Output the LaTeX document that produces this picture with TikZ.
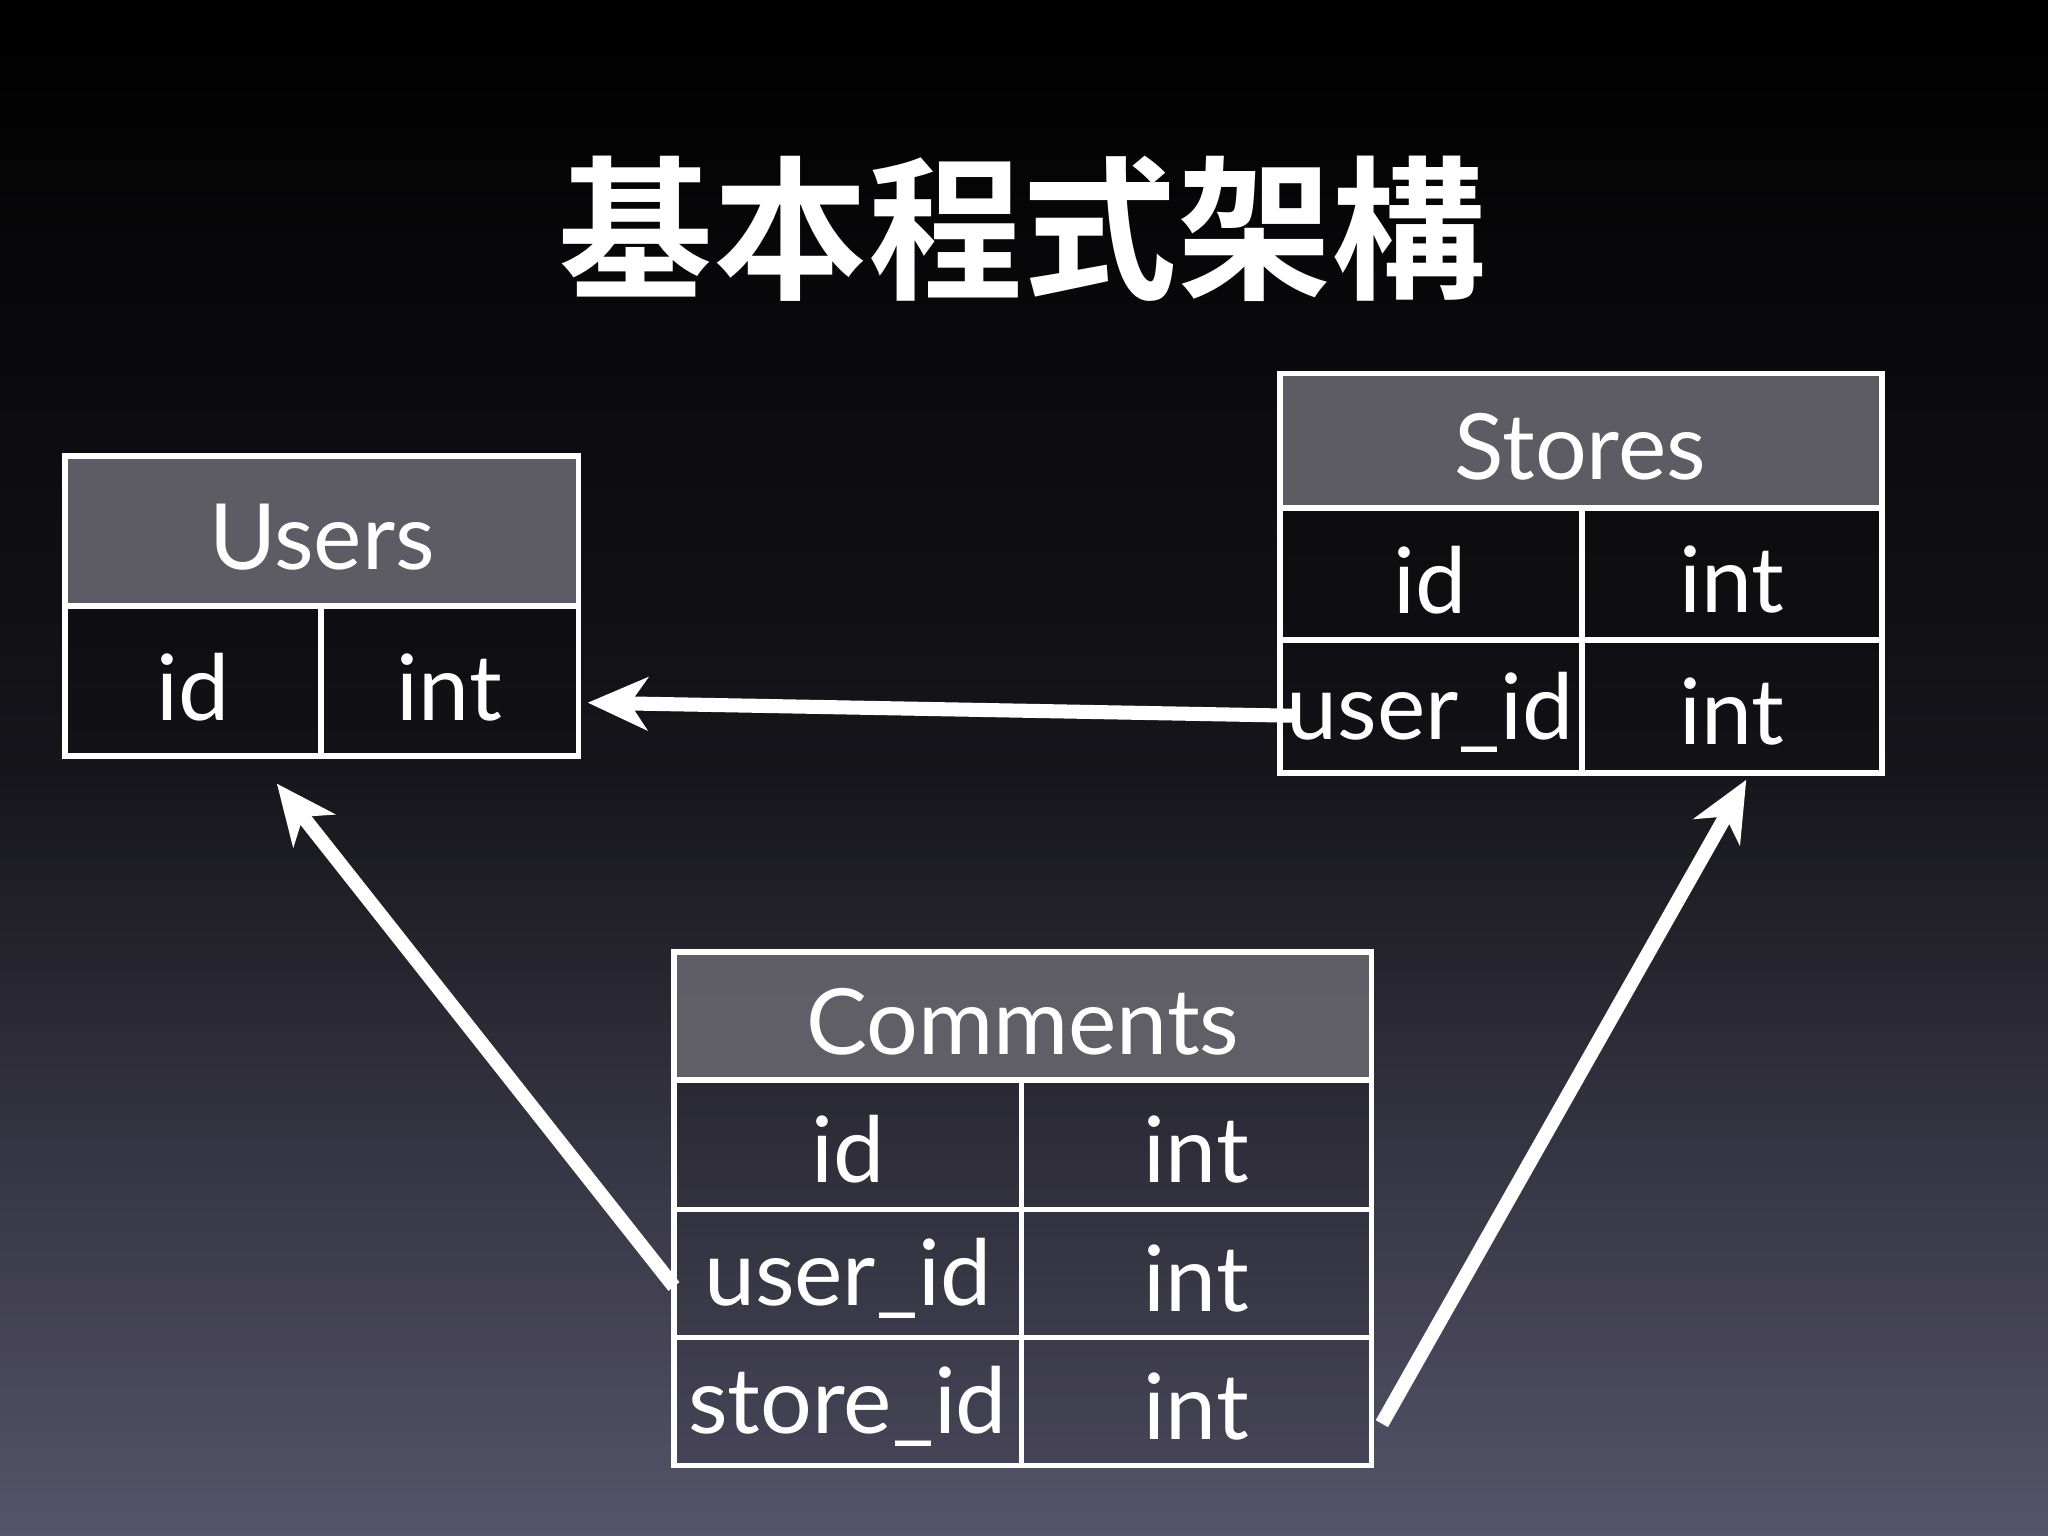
\documentclass[tikz,border=0pt]{standalone}
\usepackage{fontspec}
\setmainfont{Lato}
\newfontfamily\cjk{Noto Sans CJK SC}[BoldFont={* Bold}]
\usetikzlibrary{arrows.meta}
\definecolor{bgbot}{HTML}{56546A}
\definecolor{hdr}{HTML}{66656E}
\begin{document}
\begin{tikzpicture}[x=0.013061cm,y=-0.013061cm,
  hd/.style={draw=white,line width=1.6pt,fill=hdr,fill opacity=0.9,text opacity=1},
  cl/.style={draw=white,line width=1.6pt,fill=black,fill opacity=0.12,text opacity=1},
  tx/.style={text=white,font=\fontsize{26}{28}\selectfont,yshift=-1.5pt},
  arr/.style={draw=white,line width=4pt,-{Stealth[length=17pt,width=15pt,inset=5pt]}}]
\shade[top color=black,bottom color=bgbot,middle color=black!75!bgbot] (0,0) rectangle (1568,1176);
\useasboundingbox (0,0) rectangle (1568,1176);
\node[text=white,font=\cjk\bfseries\fontsize{44}{50}\selectfont] (title) at (783,175) {基本程式架構};
% Users
\path[hd] (50,349) rectangle (443,464); \node[tx] (uh) at (246.5,407) {Users};
\path[cl] (50,464) rectangle (246,579); \path[cl] (246,464) rectangle (443,579);
\node[tx] (uid) at (148,522) {id}; \node[tx] (uint) at (344,522) {int};
% Stores
\path[hd] (980,286) rectangle (1441,389); \node[tx] (sh) at (1210,338) {Stores};
\path[cl] (980,389) rectangle (1211,490); \path[cl] (1211,389) rectangle (1441,490);
\path[cl] (980,490) rectangle (1211,592); \path[cl] (1211,490) rectangle (1441,592);
\node[tx] (sid) at (1095,440) {id}; \node[tx] (sint) at (1326,440) {int};
\node[tx] (suid) at (1095,541) {user\_id}; \node[tx] (suint) at (1326,541) {int};
% Comments
\path[hd] (516,729) rectangle (1050,827); \node[tx] (ch) at (783,778) {Comments};
\foreach \a/\b in {827/926,926/1024,1024/1122}{
  \path[cl] (516,\a) rectangle (782,\b); \path[cl] (782,\a) rectangle (1050,\b);}
\node[tx] (cid) at (649,876) {id}; \node[tx] (cint) at (916,876) {int};
\node[tx] (cuid) at (649,975) {user\_id}; \node[tx] (cuint) at (916,975) {int};
\node[tx] (csid) at (649,1073) {store\_id}; \node[tx] (csint) at (916,1073) {int};
% arrows
\coordinate (a1s) at (992,548); \coordinate (a1e) at (450,538);
\coordinate (a2s) at (516,985); \coordinate (a2e) at (212,600);
\coordinate (a3s) at (1058,1090); \coordinate (a3e) at (1337,597);
\draw[arr] (a1s) -- (a1e);
\draw[arr] (a2s) -- (a2e);
\draw[arr] (a3s) -- (a3e);
\end{tikzpicture}
\end{document}
